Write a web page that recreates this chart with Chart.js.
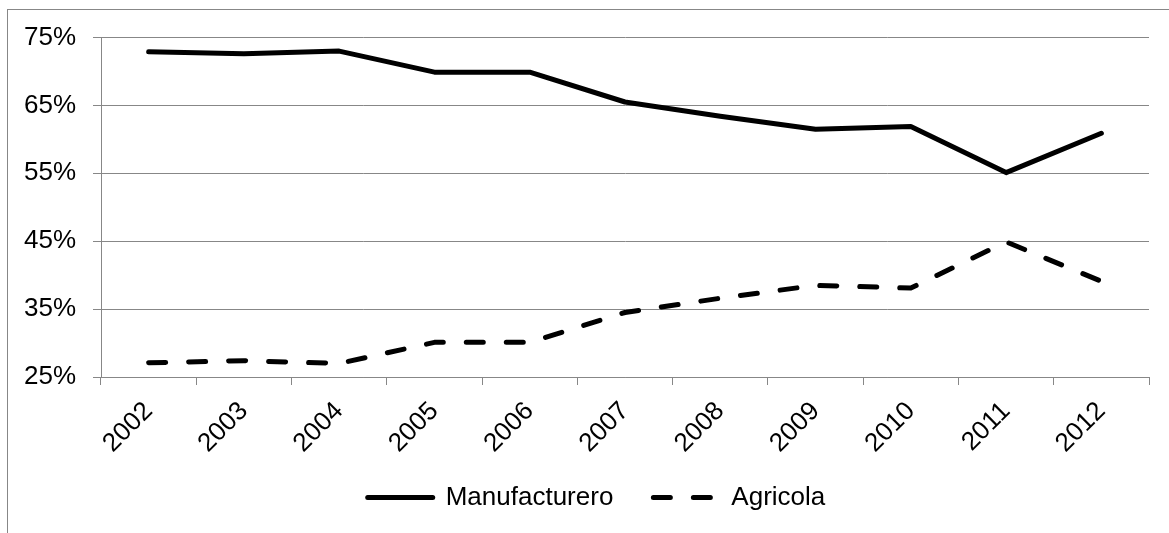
<!DOCTYPE html>
<html>
<head>
<meta charset="utf-8">
<script src="https://cdn.jsdelivr.net/npm/chart.js@4/dist/chart.umd.min.js"></script>
<style>
  html, body { margin: 0; padding: 0; background: #ffffff; }
  #wrap { width: 1169px; height: 533px; }
</style>
</head>
<body>
<div id="wrap"><canvas id="chart" width="1169" height="533"></canvas></div>
<script>
// Years on the category axis
const years = ['2002', '2003', '2004', '2005', '2006', '2007', '2008', '2009', '2010', '2011', '2012'];

// Share of each sector, in percent
const manufacturero = [72.9, 72.6, 73.0, 69.9, 69.9, 65.5, 63.4, 61.5, 61.9, 55.1, 60.9];
const agricola      = [27.1, 27.4, 27.0, 30.1, 30.1, 34.5, 36.6, 38.5, 38.1, 44.9, 39.1];

// Value axis ticks
const yTicks = [25, 35, 45, 55, 65, 75];

const seriesNames = ['Manufacturero', 'Agricola'];

const FONT = { family: "'Liberation Sans', Arial, sans-serif", size: 26 };
const GRID = '#878787';
const TEXT = '#000000';

// Thin frame around the whole figure
const framePlugin = {
  id: 'frame',
  beforeDraw(chart) {
    const ctx = chart.ctx;
    ctx.save();
    ctx.fillStyle = '#ffffff';
    ctx.fillRect(0, 0, chart.width, chart.height);
    ctx.strokeStyle = GRID;
    ctx.lineWidth = 1;
    ctx.strokeRect(7.5, 9.5, chart.width + 50, chart.height + 50);
    ctx.restore();
  }
};

// Pull the legend row up closer to the rotated year labels
const legendLift = {
  id: 'legendLift',
  afterLayout(chart) {
    const lg = chart.legend;
    if (lg) { lg.top -= 14.5; lg.bottom -= 14.5; }
  }
};

new Chart(document.getElementById('chart'), {
  type: 'line',
  data: {
    labels: years,
    datasets: [
      {
        label: seriesNames[0],
        data: manufacturero,
        borderColor: '#000000',
        backgroundColor: '#000000',
        borderWidth: 5,
        borderCapStyle: 'round',
        borderJoinStyle: 'round',
        pointRadius: 0,
        pointHoverRadius: 0,
        tension: 0,
        fill: false
      },
      {
        label: seriesNames[1],
        data: agricola,
        borderColor: '#000000',
        backgroundColor: '#000000',
        borderWidth: 5,
        borderDash: [17, 23],
        borderCapStyle: 'round',
        borderJoinStyle: 'round',
        pointRadius: 0,
        pointHoverRadius: 0,
        tension: 0,
        fill: false
      }
    ]
  },
  options: {
    responsive: false,
    animation: false,
    events: [],
    layout: { padding: { left: 24, right: 0, top: 37.5, bottom: -2 } },
    scales: {
      x: {
        offset: true,
        grid: {
          offset: true,
          drawOnChartArea: false,
          drawTicks: true,
          tickLength: 8,
          color: GRID,
          lineWidth: 1
        },
        border: { display: true, color: GRID, width: 1 },
        ticks: {
          font: FONT,
          color: TEXT,
          minRotation: 45,
          maxRotation: 45,
          autoSkip: false,
          padding: 11
        },
        afterFit(scale) { scale.height = 82; }
      },
      y: {
        min: yTicks[0],
        max: yTicks[yTicks.length - 1],
        afterBuildTicks(scale) { scale.ticks = yTicks.map(v => ({ value: v })); },
        grid: {
          drawTicks: true,
          tickLength: 8,
          color: GRID,
          lineWidth: 1
        },
        border: { display: true, color: GRID, width: 1 },
        ticks: {
          font: FONT,
          color: TEXT,
          padding: 17,
          callback: v => v + '%'
        },
        afterFit(scale) { scale.width = 77; }
      },
      // empty margin on the right of the plot
      gap: {
        type: 'linear',
        position: 'right',
        grid: { display: false },
        border: { display: false },
        ticks: { display: false },
        afterFit(scale) { scale.width = 20; }
      }
    },
    plugins: {
      legend: {
        position: 'bottom',
        labels: {
          font: FONT,
          color: TEXT,
          usePointStyle: true,
          pointStyle: 'line',
          pointStyleWidth: 65,
          padding: 40,
          generateLabels(chart) {
            return chart.data.datasets.map((ds, i) => ({
              text: ds.label,
              fillStyle: ds.borderColor,
              strokeStyle: ds.borderColor,
              fontColor: TEXT,
              lineWidth: ds.borderWidth,
              lineDash: ds.borderDash || [],
              lineCap: 'round',
              lineJoin: 'round',
              pointStyle: 'line',
              hidden: false,
              datasetIndex: i
            }));
          }
        }
      },
      tooltip: { enabled: false },
      title: { display: false }
    }
  },
  plugins: [framePlugin, legendLift]
});
</script>
</body>
</html>
